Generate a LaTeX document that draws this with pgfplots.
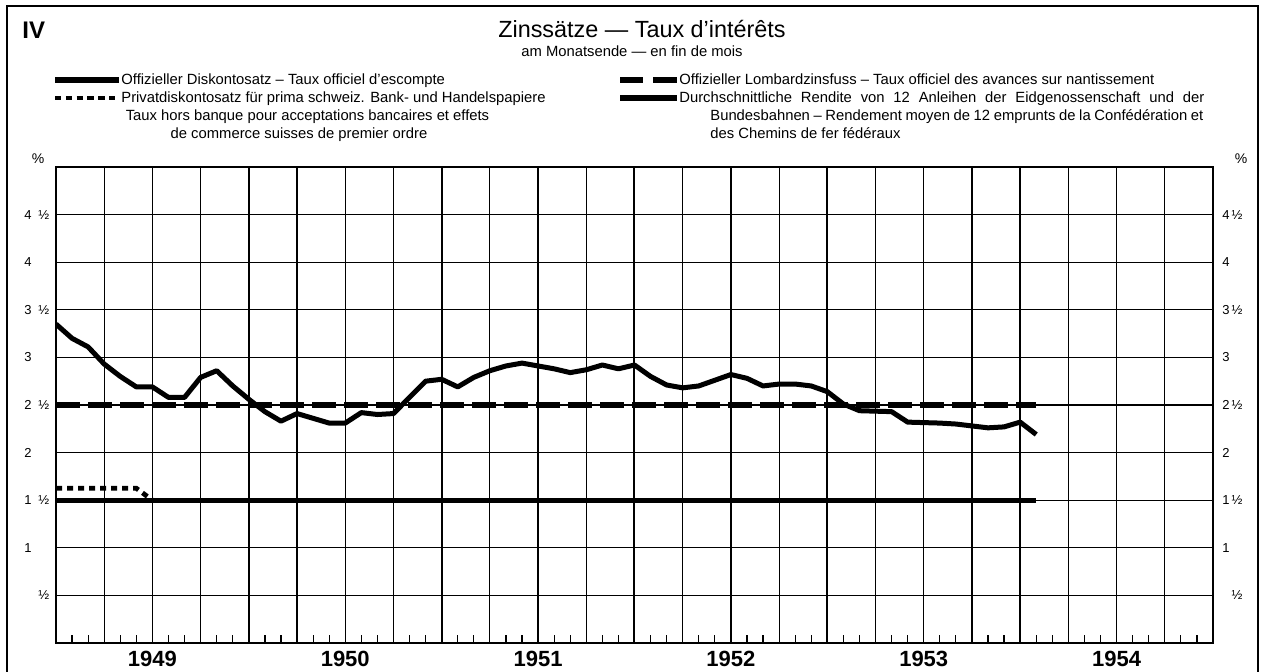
\documentclass[border=0pt]{standalone}
\usepackage{fontspec}
\setmainfont{Liberation Sans}
\usepackage{pgfplots}
\pgfplotsset{compat=1.18}
\newcommand{\lf}{\fontsize{7.4}{8.9}\selectfont}
\newcommand{\yl}[2]{\makebox[7pt][l]{#1}#2}
\newcommand{\yr}[2]{\makebox[4.6pt][l]{#1}#2}
\begin{document}
\begin{tikzpicture}[x=1pt,y=1pt]
\draw[line width=1pt] (3.3,-2.8) rectangle (629,-338);
% titles
\node[anchor=base west, inner sep=0pt, font=\bfseries\fontsize{12}{14}\selectfont] at (11,-19.25) {IV};
\node[anchor=base, inner sep=0pt, font=\fontsize{11.7}{13}\selectfont] at (321,-18.7) {Zinssätze — Taux d’intérêts};
\node[anchor=base, inner sep=0pt, font=\lf] at (316,-28.5) {am Monatsende — en fin de mois};
% left legend
\draw[line width=3pt] (27.5,-40) -- (59.5,-40);
\node[anchor=base west, inner sep=0pt, font=\lf] at (60.5,-42.25) {Offizieller Diskontosatz – Taux officiel d’escompte};
\draw[line width=2.4pt, dash pattern=on 3.2pt off 2.2pt] (27.5,-49) -- (59.5,-49);
\node[anchor=base west, inner sep=0pt, font=\lf] at (60.5,-51.25) {Privatdiskontosatz für prima schweiz. Bank- und Handelspapiere};
\node[anchor=base, inner sep=0pt, font=\lf] at (153.75,-60.25) {Taux hors banque pour acceptations bancaires et effets};
\node[anchor=base, inner sep=0pt, font=\lf] at (149.5,-69.25) {de commerce suisses de premier ordre};
% right legend
\draw[line width=2.6pt] (310,-40) -- (321.5,-40);
\draw[line width=2.6pt] (326.5,-40) -- (338.5,-40);
\node[anchor=base west, inner sep=0pt, font=\lf] at (339.5,-42.25) {Offizieller Lombardzinsfuss – Taux officiel des avances sur nantissement};
\draw[line width=2.6pt] (310,-49) -- (338.5,-49);
\node[anchor=base west, inner sep=0pt, font=\lf] at (339.5,-51.25) {\makebox[262.5pt][s]{Durchschnittliche Rendite von 12 Anleihen der Eidgenossenschaft und der}};
\node[anchor=base west, inner sep=0pt, font=\lf] at (355,-60.25) {\makebox[246.5pt][s]{Bundesbahnen – Rendement moyen de 12 emprunts de la Confédération et}};
\node[anchor=base west, inner sep=0pt, font=\lf] at (355,-69.25) {des Chemins de fer fédéraux};
% percent signs
\node[inner sep=0pt, font=\fontsize{7}{8}\selectfont] at (19,-79.5) {\%};
\node[inner sep=0pt, font=\fontsize{7}{8}\selectfont] at (620.5,-79.5) {\%};

\begin{axis}[
  at={(28pt,-321.5pt)}, anchor=south west, scale only axis,
  width=578.5pt, height=238pt,
  xmin=0, xmax=72, ymin=0, ymax=5,
  axis line style={line width=1pt},
  xtick={0,12,...,72}, xticklabels={},
  minor xtick={3,6,...,69},
  extra x ticks={6,18,30,42,54,66},
  extra x tick labels={1949,1950,1951,1952,1953,1954},
  extra x tick style={grid=none, tick label style={font=\bfseries\fontsize{11}{12}\selectfont, inner sep=0pt, yshift=-4pt}},
  xmajorgrids, xminorgrids, ymajorgrids,
  major x grid style={line width=1pt, black},
  minor x grid style={line width=0.6pt, black},
  major y grid style={line width=0.6pt, black},
  ytick={0.5,1,1.5,2,2.5,3,3.5,4,4.5},
  yticklabels={\yl{}{½},\yl{1}{},\yl{1}{½},\yl{2}{},\yl{2}{½},\yl{3}{},\yl{3}{½},\yl{4}{},\yl{4}{½}},
  yticklabel style={anchor=west, inner sep=0pt, xshift=-16pt, font=\fontsize{6.5}{7}\selectfont},
  tick align=inside, tick pos=left,
  major tick length=0pt, minor tick length=0pt,
]
% Official discount rate
\addplot[line width=2.4pt, black] coordinates {(0,1.5) (61,1.5)};
% Private discount rate
\addplot[line width=2.4pt, black, dash pattern=on 3pt off 2.5pt] coordinates {(0,1.625) (5,1.625) (6,1.5)};
% Lombard rate
\addplot[line width=2.7pt, black, dash pattern=on 12pt off 4pt] coordinates {(0,2.5) (61,2.5)};
% Average yield
\addplot[line width=2.5pt, black, line join=round] coordinates {
(0,3.35) (1,3.20) (2,3.11) (3,2.93) (4,2.80) (5,2.69) (6,2.69) (7,2.58) (8,2.58) (9,2.79)
(10,2.86) (11,2.70) (12,2.56) (13,2.43) (14,2.33) (15,2.41) (16,2.36) (17,2.31) (18,2.31) (19,2.42)
(20,2.40) (21,2.41) (22,2.58) (23,2.75) (24,2.77) (25,2.69) (26,2.79) (27,2.86) (28,2.91) (29,2.94)
(30,2.91) (31,2.88) (32,2.84) (33,2.87) (34,2.92) (35,2.88) (36,2.92) (37,2.80) (38,2.71) (39,2.68)
(40,2.70) (41,2.76) (42,2.82) (43,2.78) (44,2.70) (45,2.72) (46,2.72) (47,2.70) (48,2.64) (49,2.51)
(50,2.44) (51,2.435) (52,2.43) (53,2.32) (54,2.315) (55,2.31) (56,2.30) (57,2.28) (58,2.26) (59,2.27)
(60,2.32) (61,2.19)};
\end{axis}

\begin{axis}[
  at={(28pt,-321.5pt)}, anchor=south west, scale only axis,
  width=578.5pt, height=238pt,
  xmin=0, xmax=72, ymin=0, ymax=5,
  axis line style={draw=none},
  xtick={1,2,...,71}, xticklabels={},
  ytick={0.5,1,1.5,2,2.5,3,3.5,4,4.5},
  yticklabels={\yr{}{½},\yr{1}{},\yr{1}{½},\yr{2}{},\yr{2}{½},\yr{3}{},\yr{3}{½},\yr{4}{},\yr{4}{½}},
  yticklabel pos=right,
  yticklabel style={anchor=west, inner sep=0pt, xshift=4.5pt, font=\fontsize{6.5}{7}\selectfont},
  tick align=inside, xtick pos=left, ytick pos=right,
  major tick length=4pt,
  tick style={line width=0.6pt, black},
]
\end{axis}
\pgfresetboundingbox
\useasboundingbox (0,0) rectangle (633,-336);
\end{tikzpicture}
\end{document}
